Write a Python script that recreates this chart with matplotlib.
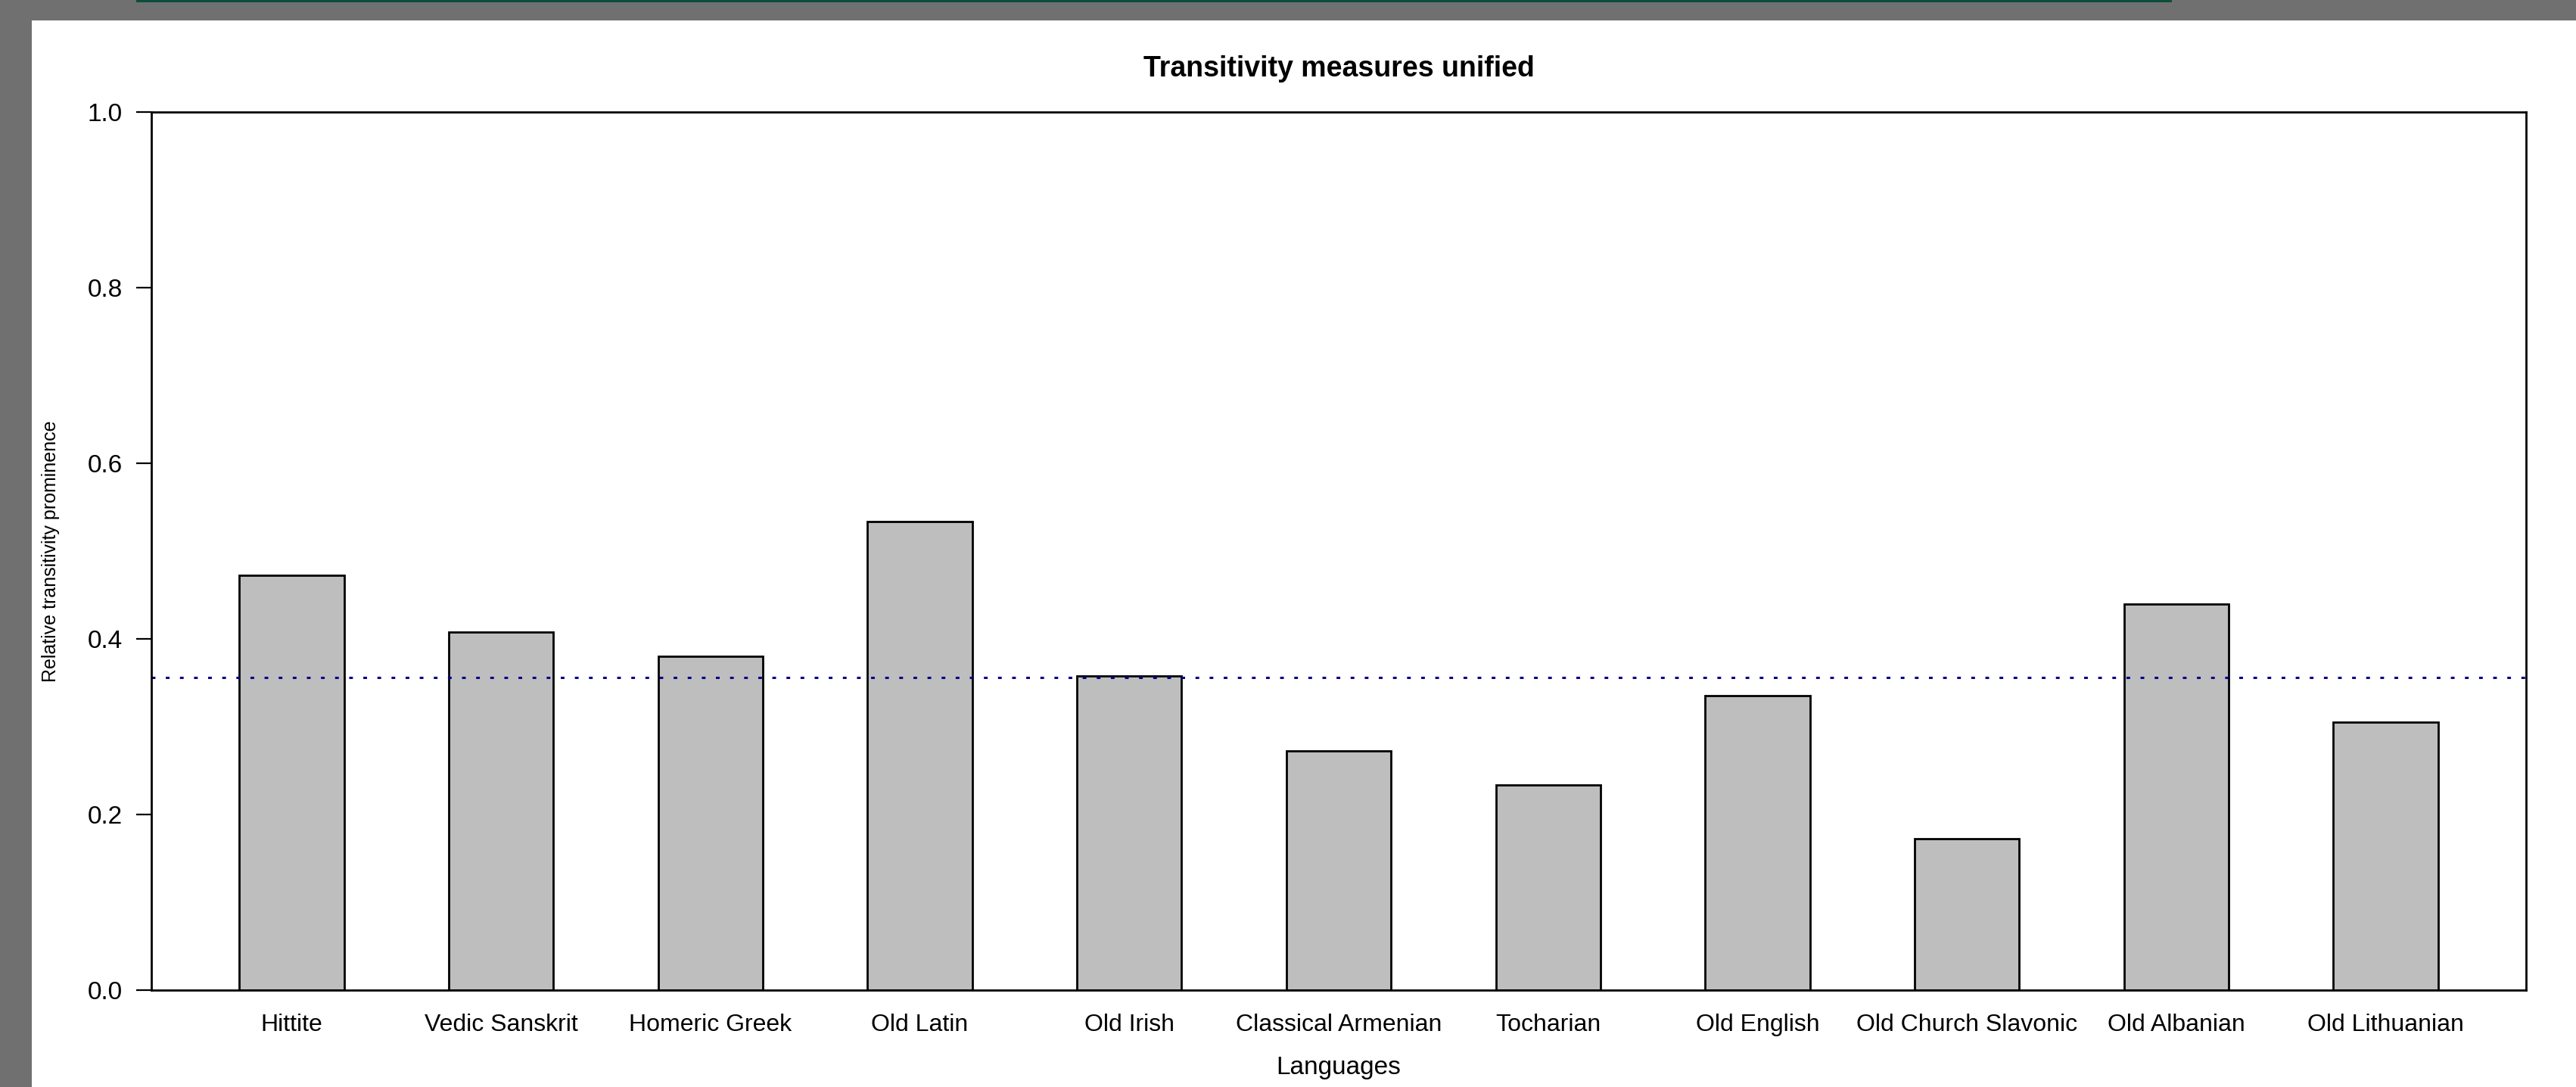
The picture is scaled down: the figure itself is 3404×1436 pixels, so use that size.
# -*- coding: utf-8 -*-
"""
Bar chart of relative transitivity prominence across old Indo-European languages
"""

import matplotlib.pyplot as plt
import numpy as np
from matplotlib.patches import Rectangle

# Data ------------------------------------------------------------------------
languages = ['Hittite', 'Vedic Sanskrit', 'Homeric Greek', 'Old Latin', 'Old Irish',
             'Classical Armenian', 'Tocharian', 'Old English', 'Old Church Slavonic',
             'Old Albanian', 'Old Lithuanian']
prominence = [0.472, 0.408, 0.380, 0.534, 0.358, 0.272, 0.234, 0.335, 0.172, 0.440, 0.305]
overall_level = 0.356
y_ticks = [0.0, 0.2, 0.4, 0.6, 0.8, 1.0]

# Fonts -----------------------------------------------------------------------
plt.rcParams['font.family'] = ['Liberation Sans', 'DejaVu Sans']

W, H = 3404, 1436
fig = plt.figure(figsize=(W / 100, H / 100), dpi=100, facecolor='#707070')

# white sheet over the gray backdrop, thin green strip along the top
fig.patches.append(Rectangle((42 / W, 0), 1, 1 - 27 / H, transform=fig.transFigure,
                             facecolor='white', edgecolor='none', zorder=-10))
fig.patches.append(Rectangle((180 / W, 1 - 3 / H), (2870 - 180) / W, 3 / H,
                             transform=fig.transFigure, facecolor='#0d4d3c',
                             edgecolor='none', zorder=-10))

# Axes ------------------------------------------------------------------------
left, right, top, bottom = 200, 3338, 148, 1308
ax = fig.add_axes([left / W, 1 - bottom / H, (right - left) / W, (bottom - top) / H])
ax.set_facecolor('white')

# barplot with space = 1: bar i sits on [2i+1, 2i+2]
x_pos = np.arange(len(languages)) * 2 + 1.5
ax.bar(x_pos, prominence, width=1, color='#bebebe', edgecolor='black', linewidth=2)
ax.axhline(overall_level, color='#00008b', linestyle=(0, (1.6, 4.5)), linewidth=2.2)

ax.set_xlim(0.16, 22.84)
ax.set_ylim(0, 1)

ax.set_yticks(y_ticks)
ax.set_yticklabels(['%.1f' % t for t in y_ticks])
ax.set_xticks(x_pos)
ax.set_xticklabels(languages)
ax.tick_params(axis='y', length=14.4, width=1.6, pad=13, labelsize=24)
ax.tick_params(axis='x', length=0, pad=22, labelsize=23)

for spine in ax.spines.values():
    spine.set_linewidth(2)

ax.text(0.5, 1 + 57 / (bottom - top), 'Transitivity measures unified',
        transform=ax.transAxes, ha='center', va='center',
        fontsize=27, fontweight='bold')

ax.set_xlabel('Languages', fontsize=24)
ax.xaxis.label.set_va('center')
ax.xaxis.set_label_coords(0.5, -103 / (bottom - top))

ax.set_ylabel('Relative transitivity prominence', fontsize=18)
ax.yaxis.label.set_va('center')
ax.yaxis.set_label_coords(-133 / (right - left), 0.5)

plt.savefig('out.png', dpi=100, facecolor=fig.get_facecolor())
